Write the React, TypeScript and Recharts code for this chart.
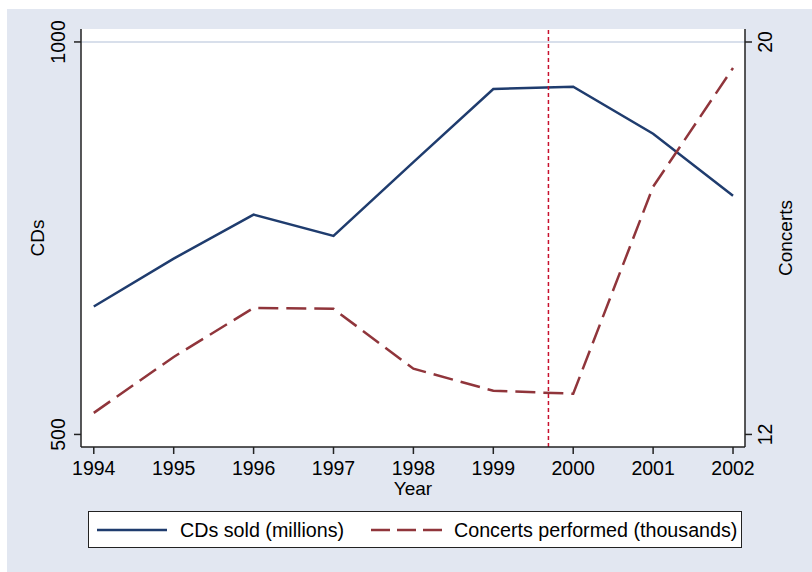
import React from "react";
import {
    LineChart,
    Line,
    XAxis,
    YAxis,
    CartesianGrid,
    ReferenceLine,
} from "recharts";

const years = [1994, 1995, 1996, 1997, 1998, 1999, 2000, 2001, 2002];
const cdsSold = [663, 724, 780, 753, 847, 940, 943, 883, 804];
const concerts = [12.44, 13.58, 14.58, 14.56, 13.34, 12.89, 12.83, 17.05, 19.47];
const cdTicks = [500, 1000];
const concertTicks = [12, 20];
const markerYear = 1999.69;
const seriesNames = ["CDs sold (millions)", "Concerts performed (thousands)"];

const FONT = '"Liberation Sans", Arial, Helvetica, sans-serif';
const NAVY = "#1f3c6e";
const MAROON = "#90353b";
const BG = "#e2e7f1";
const TICK_FS = 19.5;

const data = years.map((year, i) => ({
    year,
    cds: cdsSold[i],
    concerts: concerts[i],
}));

const LeftTick = ({ x, y, payload }: any) => {
    const bx = x - 9;
    return (
        <text
            x={bx}
            y={y}
            transform={`rotate(-90 ${bx} ${y})`}
            textAnchor="middle"
            fontSize={TICK_FS}
            fontFamily={FONT}
            fill="#000"
        >
            {payload.value}
        </text>
    );
};

const RightTick = ({ x, y, payload }: any) => {
    const bx = x + 20;
    return (
        <text
            x={bx}
            y={y}
            transform={`rotate(-90 ${bx} ${y})`}
            textAnchor="middle"
            fontSize={TICK_FS}
            fontFamily={FONT}
            fill="#000"
        >
            {payload.value}
        </text>
    );
};

const AxisTitle = ({ viewBox, text, dx }: any) => {
    const bx = viewBox.x + dx;
    const cy = viewBox.y + viewBox.height / 2;
    return (
        <text
            x={bx}
            y={cy}
            transform={`rotate(-90 ${bx} ${cy})`}
            textAnchor="middle"
            fontSize={19}
            fontFamily={FONT}
            fill="#000"
        >
            {text}
        </text>
    );
};

const LegendBox = () => (
    <div
        style={{
            position: "absolute",
            left: 81,
            top: 502,
            width: 652,
            height: 35,
            background: "#fff",
            border: "1px solid #222",
        }}
    >
        <svg width={652} height={35} style={{ position: "absolute", left: 0, top: 0 }}>
            <line x1={8} x2={78} y1={18} y2={18} stroke={NAVY} strokeWidth={2.5} />
            <text x={91} y={25} fontSize={19.7} fontFamily={FONT} fill="#000">
                {seriesNames[0]}
            </text>
            <line
                x1={282}
                x2={353}
                y1={18}
                y2={18}
                stroke={MAROON}
                strokeWidth={2.5}
                strokeDasharray="19 7"
            />
            <text x={365} y={25} fontSize={19.7} fontFamily={FONT} fill="#000">
                {seriesNames[1]}
            </text>
        </svg>
    </div>
);

export default function App() {
    return (
        <div
            style={{
                position: "absolute",
                left: 7,
                top: 9,
                width: 805,
                height: 563,
                background: BG,
            }}
        >
            <LineChart
                width={805}
                height={563}
                data={data}
                margin={{ top: 20, right: 7, left: 14, bottom: 64 }}
            >
                <CartesianGrid
                    yAxisId="left"
                    fill="#fff"
                    horizontal={false}
                    vertical={false}
                />
                <XAxis
                    dataKey="year"
                    type="number"
                    domain={[1993.84, 2002.15]}
                    ticks={years}
                    allowDataOverflow
                    height={61}
                    tickSize={7}
                    tickMargin={7}
                    stroke="#222"
                    strokeWidth={1.5}
                    tick={{ fill: "#000", fontSize: TICK_FS, fontFamily: FONT }}
                    label={{
                        value: "Year",
                        position: "insideBottom",
                        offset: 13,
                        fill: "#000",
                        fontSize: 19,
                        fontFamily: FONT,
                    }}
                />
                <YAxis
                    yAxisId="left"
                    orientation="left"
                    width={60}
                    domain={[484, 1016.5]}
                    ticks={cdTicks}
                    allowDataOverflow
                    tickSize={7}
                    tickMargin={0}
                    stroke="#222"
                    strokeWidth={1.5}
                    tick={<LeftTick />}
                    label={<AxisTitle text="CDs" dx={23} />}
                />
                <YAxis
                    yAxisId="right"
                    orientation="right"
                    width={60}
                    domain={[11.744, 20.265]}
                    ticks={concertTicks}
                    allowDataOverflow
                    tickSize={7}
                    tickMargin={0}
                    stroke="#222"
                    strokeWidth={1.5}
                    tick={<RightTick />}
                    label={<AxisTitle text="Concerts" dx={47} />}
                />
                <ReferenceLine
                    yAxisId="left"
                    y={1000}
                    stroke="#d8dfeb"
                    strokeWidth={2}
                />
                <Line
                    yAxisId="left"
                    type="linear"
                    dataKey="cds"
                    name={seriesNames[0]}
                    stroke={NAVY}
                    strokeWidth={2.5}
                    dot={false}
                    isAnimationActive={false}
                />
                <Line
                    yAxisId="right"
                    type="linear"
                    dataKey="concerts"
                    name={seriesNames[1]}
                    stroke={MAROON}
                    strokeWidth={2.5}
                    strokeDasharray="20 8"
                    dot={false}
                    isAnimationActive={false}
                />
                <ReferenceLine
                    yAxisId="left"
                    x={markerYear}
                    stroke="#c8102e"
                    strokeWidth={1.5}
                    strokeDasharray="4 3"
                />
            </LineChart>
            <LegendBox />
        </div>
    );
}
